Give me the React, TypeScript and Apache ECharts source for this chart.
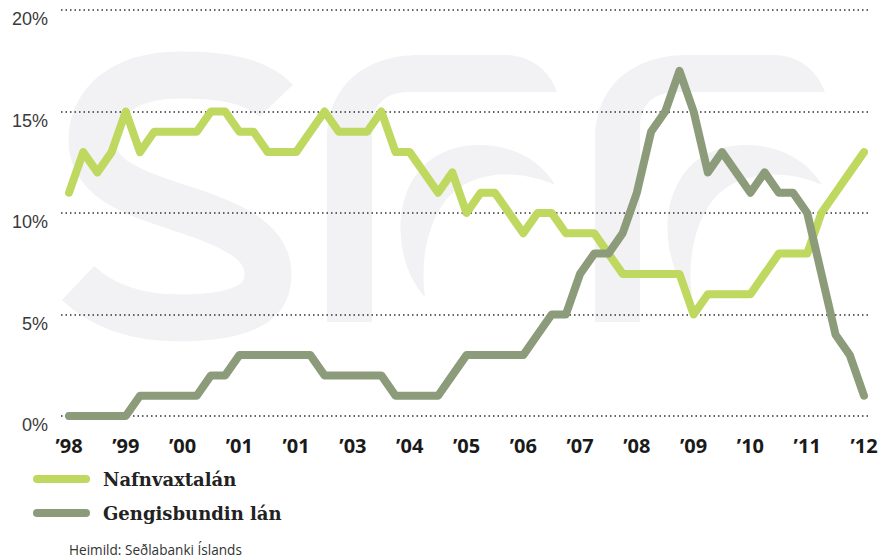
import { useEffect, useRef } from 'react';
import * as echarts from 'echarts';

const years = [1998, 1999, 2000, 2001, 2002, 2003, 2004, 2005, 2006, 2007, 2008, 2009, 2010, 2011, 2012];
const yearLabels = ['’98', '’99', '’00', '’01', '’01', '’03', '’04', '’05', '’06', '’07', '’08', '’09', '’10', '’11', '’12'];
const quarters = years.flatMap((y) => [1, 2, 3, 4].map((q) => `${y} Q${q}`)).slice(0, 57);

const nafnvaxtalan = [
  11, 13, 12, 13, 15,
  13, 14, 14, 14, 14,
  15, 15, 14, 14, 13,
  13, 13, 14, 15, 14,
  14, 14, 15, 13, 13,
  12, 11, 12, 10, 11,
  11, 10, 9, 10, 10,
  9, 9, 9, 8, 7,
  7, 7, 7, 7, 5,
  6, 6, 6, 6, 7,
  8, 8, 8, 10, 11,
  12, 13,
];

const gengisbundin = [
  0, 0, 0, 0, 0,
  1, 1, 1, 1, 1,
  2, 2, 3, 3, 3,
  3, 3, 3, 2, 2,
  2, 2, 2, 1, 1,
  1, 1, 2, 3, 3,
  3, 3, 3, 4, 5,
  5, 7, 8, 8, 9,
  11, 14, 15, 17, 15,
  12, 13, 12, 11, 12,
  11, 11, 10, 7, 4,
  3, 1,
];

const seriesNames = ['Nafnvaxtalán', 'Gengisbundin lán'];
const seriesColors = ['#bed860', '#8c9b7a'];
const sourceText = 'Heimild: Seðlabanki Íslands';

const S_PATH =
  'M276 101 C256 80 222 75 180 75 C122 75 92 104 92 140 C92 178 130 192 180 208 C244 228 268 246 268 275 C268 308 230 318 180 318 C132 318 100 304 78 283';
const F_PATH =
  'M327 322 L327 140 C327 88 362 55 420 55 L505 55 C532 55 550 72 557 92 L410 92 C386 92 372 104 372 128 L372 322 Z';
const CRESCENT_PATH =
  'M425 297 C385 255 388 145 480 145 C514 145 542 162 555 185 C522 170 472 168 446 200 C427 224 420 262 425 297 Z';

let registered = false;
function registerShapes() {
  if (registered) return;
  echarts.graphic.registerShape('sffS', echarts.graphic.extendPath(S_PATH, {}) as any);
  echarts.graphic.registerShape('sffF', echarts.graphic.extendPath(F_PATH, {}) as any);
  echarts.graphic.registerShape('sffCres', echarts.graphic.extendPath(CRESCENT_PATH, {}) as any);
  registered = true;
}

export default function App() {
  const ref = useRef<HTMLDivElement>(null);

  useEffect(() => {
    if (!ref.current) return;
    registerShapes();
    const chart = echarts.init(ref.current, undefined, { renderer: 'svg' });
    const wmColor = '#f2f2f4';
    chart.setOption({
      animation: false,
      backgroundColor: '#ffffff',
      graphic: [
        {
          type: 'sffS',
          z: -100,
          x: 0,
          y: 0,
          style: { fill: 'none', stroke: wmColor, lineWidth: 47, lineCap: 'butt' },
        },
        { type: 'sffF', z: -100, x: 0, y: 0, style: { fill: wmColor } },
        { type: 'sffF', z: -100, x: 268, y: 0, style: { fill: wmColor } },
        { type: 'sffCres', z: -100, x: 0, y: 0, style: { fill: wmColor } },
        { type: 'sffCres', z: -100, x: 267, y: 0, style: { fill: wmColor } },
        {
          type: 'text',
          x: 69,
          y: 549,
          style: {
            text: sourceText,
            font: '13.6px "Open Sans"',
            fill: '#333333',
            align: 'left',
            verticalAlign: 'middle',
          },
        },
      ],
      legend: {
        orient: 'vertical',
        left: 28,
        top: 464,
        itemWidth: 57,
        itemHeight: 8,
        itemGap: 14,
        icon: 'path://M4,0H53A4,4,0,0,1,53,8H4A4,4,0,0,1,4,0Z',
        data: seriesNames,
        textStyle: {
          fontFamily: '"DejaVu Serif"',
          fontWeight: 'bold',
          fontSize: 18,
          color: '#222222',
          lineHeight: 20,
          padding: [0, 0, 0, 8],
        },
      },
      grid: [
        { left: 69, top: 10, width: 795, height: 406 },
        { left: 61, top: 10, width: 807, height: 406 },
      ],
      xAxis: [
        {
          type: 'category',
          gridIndex: 0,
          data: quarters,
          boundaryGap: false,
          axisLine: { show: false },
          axisTick: { show: false },
          splitLine: { show: false },
          axisLabel: {
            interval: 3,
            margin: 19,
            formatter: (_v: string, idx: number) => yearLabels[Math.round(idx / 4)] ?? '',
            fontFamily: '"Open Sans"',
            fontWeight: 'bold',
            fontSize: 20,
            color: '#1a1a1a',
          },
        },
        { type: 'value', gridIndex: 1, show: false, min: 0, max: 1 },
      ],
      yAxis: [
        { type: 'value', gridIndex: 0, min: 0, max: 20, show: false },
        {
          type: 'value',
          gridIndex: 1,
          min: 0,
          max: 20,
          interval: 5,
          axisLine: { show: false },
          axisTick: { show: false },
          axisLabel: {
            margin: 13,
            formatter: '{value}%',
            fontFamily: '"Liberation Sans"',
            fontSize: 18,
            color: '#3a3a3a',
            verticalAlign: 'top',
            lineHeight: 18,
          },
          splitLine: {
            show: true,
            lineStyle: { color: '#333333', width: 1.5, type: [1.5, 3] },
          },
        },
      ],
      series: [
        {
          name: seriesNames[0],
          type: 'line',
          xAxisIndex: 0,
          yAxisIndex: 0,
          data: nafnvaxtalan,
          color: seriesColors[0],
          symbol: 'none',
          lineStyle: { width: 8, color: seriesColors[0], cap: 'round', join: 'round' },
        },
        {
          name: seriesNames[1],
          type: 'line',
          xAxisIndex: 0,
          yAxisIndex: 0,
          data: gengisbundin,
          color: seriesColors[1],
          symbol: 'none',
          lineStyle: { width: 8, color: seriesColors[1], cap: 'round', join: 'round' },
        },
      ],
    });
    return () => chart.dispose();
  }, []);

  return (
    <div
      ref={ref}
      style={{ position: 'fixed', left: 0, top: 0, width: 882, height: 560, background: '#fff' }}
    />
  );
}
